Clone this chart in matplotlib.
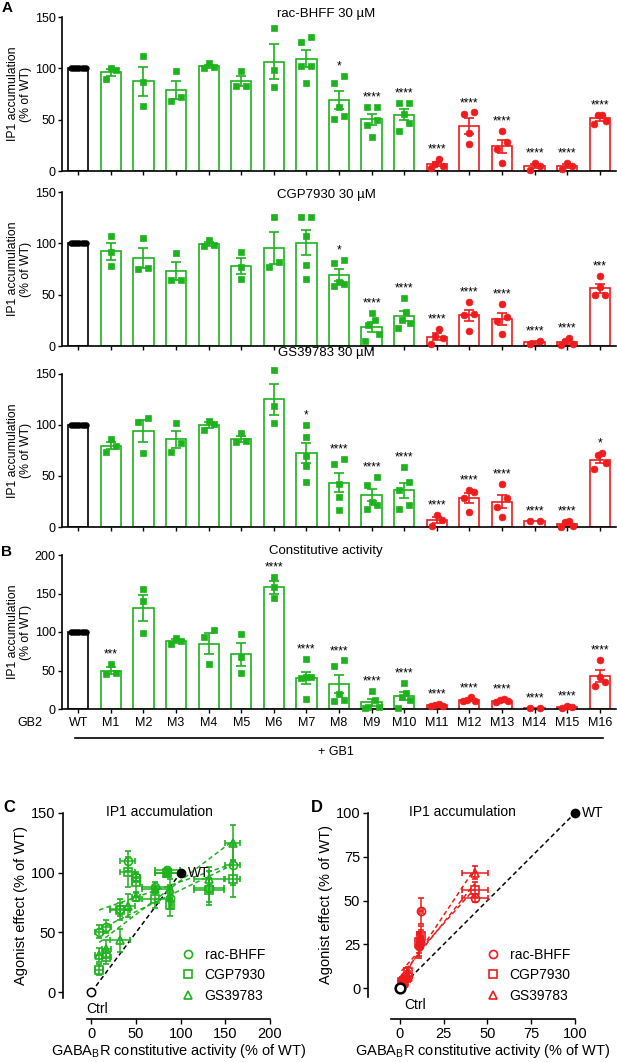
import numpy as np
import matplotlib
matplotlib.use("Agg")
import matplotlib.pyplot as plt
from matplotlib.lines import Line2D
from matplotlib.transforms import blended_transform_factory

plt.rcParams['font.family'] = ['Liberation Sans', 'DejaVu Sans']
plt.rcParams['mathtext.fontset'] = 'custom'
plt.rcParams['mathtext.rm'] = 'Liberation Sans'
plt.rcParams['mathtext.it'] = 'Liberation Sans'

# ---------------- data ----------------
mutants = ['WT', 'M1', 'M2', 'M3', 'M4', 'M5', 'M6', 'M7', 'M8', 'M9', 'M10',
           'M11', 'M12', 'M13', 'M14', 'M15', 'M16']
wt_pts = [100, 100, 100, 100, 100, 100, 100, 100]

bhff_pts = [wt_pts,
            [90, 100, 98], [112, 87, 63], [97, 68, 72], [105, 100, 101],
            [97, 83, 83], [139, 98, 82], [131, 126, 102, 102, 86],
            [93, 86, 62, 54, 51], [62, 62, 50, 45, 33], [66, 66, 56, 47, 39],
            [12, 7, 5, 3], [56, 57, 37, 26], [39, 28, 21, 8], [8, 5, 1],
            [8, 5, 2], [55, 55, 49, 46]]
bhff_sig = ['', '', '', '', '', '', '', '', '*', '****', '****',
            '****', '****', '****', '****', '****', '****']

cgp_pts = [wt_pts,
           [107, 92, 78], [105, 75, 76], [91, 64, 64], [103, 98, 97],
           [92, 77, 65], [126, 82, 77], [126, 126, 107, 79, 65],
           [84, 81, 62, 60, 58], [32, 25, 20, 12, 5], [47, 33, 25, 22, 18],
           [17, 10, 8, 2], [43, 31, 30, 15], [41, 28, 24, 12], [2, 5],
           [8, 5, 2, 1], [68, 57, 50, 50]]
cgp_sig = ['', '', '', '', '', '', '', '', '*', '****', '****',
           '****', '****', '****', '****', '****', '***']

gs_pts = [wt_pts,
          [86, 79, 74], [107, 103, 73], [102, 82, 74], [104, 101, 95],
          [92, 84, 83], [154, 119, 102], [100, 88, 70, 60, 44],
          [67, 62, 42, 29, 17], [49, 41, 25, 22, 18], [59, 44, 36, 22, 18],
          [12, 7, 1], [36, 34, 28, 15], [42, 28, 20, 10], [6, 6],
          [6, 5, 1, 0], [73, 71, 63, 57]]
gs_sig = ['', '', '', '', '', '', '', '*', '****', '****', '****',
          '****', '****', '****', '****', '****', '*']

const_pts = [wt_pts,
             [58, 45, 47], [156, 140, 99], [92, 85, 88], [103, 94, 58],
             [98, 68, 47], [172, 158, 144], [65, 42, 42, 40, 13],
             [63, 56, 20, 10, 12], [24, 12, 3, 3, 1], [34, 21, 16, 12, 1],
             [6, 5, 4, 4], [15, 12, 11, 10], [13, 12, 10, 9], [1, 1],
             [4, 2, 1], [64, 42, 35, 30]]
const_sig = ['', '***', '', '', '', '', '****', '****', '****', '****', '****',
             '****', '****', '****', '****', '****', '****']

agonists = ['rac-BHFF', 'CGP7930', 'GS39783']
agonist_markers = ['o', 's', '^']
panel_titles = ['rac-BHFF 30 µM', 'CGP7930 30 µM', 'GS39783 30 µM', 'Constitutive activity']

GREEN = '#1db31d'
RED = '#ee1c1c'
BLACK = '#000000'


def mean(p):
    return float(np.mean(p))


def sem(p):
    p = np.asarray(p, float)
    return float(np.std(p, ddof=1) / np.sqrt(len(p))) if len(p) > 1 else 0.0


def color_of(i):
    if i == 0:
        return BLACK
    return GREEN if i <= 10 else RED


def marker_of(i):
    if i == 0:
        return 'o'
    return 's' if i <= 10 else 'o'


# ---------------- figure ----------------
W, H = 617, 1062
fig = plt.figure(figsize=(W / 100, H / 100), dpi=100)


def px_axes(left, top, right, bottom):
    return fig.add_axes([left / W, 1 - bottom / H, (right - left) / W, (bottom - top) / H])


def swarm_offsets(vals, ppu_y, ppu_x, thr=10.0):
    vals = np.asarray(vals, float)
    order = np.argsort(vals, kind='stable')
    clusters, cur = [], [order[0]]
    for a, b in zip(order[:-1], order[1:]):
        if (vals[b] - vals[a]) * ppu_y < thr:
            cur.append(b)
        else:
            clusters.append(cur)
            cur = [b]
    clusters.append(cur)
    off = np.zeros(len(vals))
    for c in clusters:
        k = len(c)
        if k == 1:
            continue
        span = 10.0 if k <= 3 else min(15.0, 10.0 + 2.0 * (k - 3))
        pos = np.linspace(-span / 2, span / 2, k)
        # zig-zag assignment: lowest left, next right, then inwards
        zz = []
        lo, hi = 0, k - 1
        while lo <= hi:
            zz.append(lo)
            if hi != lo:
                zz.append(hi)
            lo += 1
            hi -= 1
        for j, idx in enumerate(c):
            off[idx] = pos[zz[j]] / ppu_x
    return off


bar_rows = [(17, 171), (192, 346), (374, 527), (555, 709)]
bar_left, bar_right = 62, 616
datasets = [bhff_pts, cgp_pts, gs_pts, const_pts]
sigsets = [bhff_sig, cgp_sig, gs_sig, const_sig]
ymaxs = [150, 150, 150, 200]
title_y = [14, 195, 353, 551]

x = np.arange(len(mutants))
for r, (top, bot) in enumerate(bar_rows):
    ax = px_axes(bar_left, top, bar_right, bot)
    pts = datasets[r]
    ax.set_xlim(-0.5, len(mutants) - 0.5)
    ax.set_ylim(0, ymaxs[r])
    ppu_x = (bar_right - bar_left) / len(mutants)
    ppu_y = (bot - top) / ymaxs[r]
    means = [mean(p) for p in pts]
    sems = [sem(p) for p in pts]
    cols = [color_of(i) for i in x]
    ax.bar(x, means, width=0.62, facecolor='white', edgecolor=cols,
           linewidth=1.2, zorder=2)
    for i in x:
        if sems[i] > 0:
            ax.errorbar(i, means[i], yerr=sems[i], fmt='none', ecolor=cols[i],
                        elinewidth=1.2, capsize=3.8, capthick=1.2, zorder=3)
        off = swarm_offsets(pts[i], ppu_y, ppu_x)
        ms = 4.0 if i == 0 else (4.7 if marker_of(i) == 's' else 4.9)
        ax.plot(i + off, pts[i], linestyle='none', marker=marker_of(i), ms=ms,
                mfc=cols[i], mec=cols[i], mew=0.5, zorder=4, clip_on=False)
        if sigsets[r][i]:
            ax.annotate(sigsets[r][i], (i, max(pts[i])), xytext=(0, 2.5),
                        textcoords='offset points', ha='center', va='bottom',
                        fontsize=8.5, color='black', zorder=5, annotation_clip=False)
    for s in ['top', 'right']:
        ax.spines[s].set_visible(False)
    for s in ['left', 'bottom']:
        ax.spines[s].set_linewidth(1.2)
    ax.set_yticks(np.arange(0, ymaxs[r] + 1, 50))
    ax.set_xticks(x)
    ax.tick_params(axis='both', length=3, width=1.0, labelsize=9, pad=1.5)
    if r < 3:
        ax.set_xticklabels([])
    else:
        ax.set_xticklabels(mutants, fontsize=9)
        ax.tick_params(axis='x', pad=2.5)
    ax.set_ylabel('IP1 accumulation\n(% of WT)', fontsize=8.8, linespacing=1.1, labelpad=2)
    tr = blended_transform_factory(ax.transData, fig.transFigure)
    ax.text(7.6, 1 - title_y[r] / H, panel_titles[r], transform=tr,
            ha='center', va='center', fontsize=9.5)
    if r == 3:
        ax_b = ax

# panel letters A, B
fig.text(2 / W, 1 - 8 / H, 'A', fontsize=11, fontweight='bold', ha='left', va='center')
fig.text(1 / W, 1 - 552 / H, 'B', fontsize=11, fontweight='bold', ha='left', va='center')

# GB2 / + GB1 annotation
fig.text(30 / W, 1 - 723 / H, 'GB2', fontsize=9, ha='center', va='center')
trb = blended_transform_factory(ax_b.transData, fig.transFigure)
ax_b.plot([-0.1, 16.1], [1 - 738 / H, 1 - 738 / H], color='black', lw=1.2,
          transform=trb, clip_on=False)
fig.text(336 / W, 1 - 752 / H, '+ GB1', fontsize=9, ha='center', va='center')

# ---------------- scatter panels C and D ----------------
agon_sets = [bhff_pts, cgp_pts, gs_pts]


def scatter_panel(ax, idx, color, xlim, ylim, xticks, yticks, left_off, bot_off):
    ax.set_xlim(*xlim)
    ax.set_ylim(*ylim)
    cx = np.array([mean(const_pts[i]) for i in idx])
    cxe = np.array([sem(const_pts[i]) for i in idx])
    ax.plot([0, 100], [0, 100], linestyle=(0, (3, 2)), color='black', lw=1.1, zorder=2,
            clip_on=False)
    for a, data in enumerate(agon_sets):
        ay = np.array([mean(data[i]) for i in idx])
        aye = np.array([sem(data[i]) for i in idx])
        ax.errorbar(cx, ay, xerr=cxe, yerr=aye, fmt=agonist_markers[a], ms=5.8,
                    mfc='none', mec=color, mew=1.2, ecolor=color, elinewidth=1.1,
                    capsize=2.5, capthick=1.1, zorder=3, clip_on=False)
        k, b = np.polyfit(cx, ay, 1)
        xs = np.array([cx.min(), cx.max()])
        ax.plot(xs, k * xs + b, linestyle=(0, (3, 2)), color=color, lw=1.1, zorder=2)
    for s in ['top', 'right']:
        ax.spines[s].set_visible(False)
    ax.spines['left'].set_position(('outward', left_off))
    ax.spines['bottom'].set_position(('outward', bot_off))
    for s in ['left', 'bottom']:
        ax.spines[s].set_linewidth(1.2)
    ax.set_xticks(xticks)
    ax.set_yticks(yticks)
    ax.tick_params(axis='both', length=3.5, width=1.0, labelsize=10.5, pad=2)
    ax.set_xlabel('GABA$_{\\mathrm{B}}$R constitutive activity (% of WT)', fontsize=10.5,
                  labelpad=1)
    ax.set_ylabel('Agonist effect (% of WT)', fontsize=10.5, labelpad=2)
    handles = [Line2D([], [], linestyle='none', marker=m, ms=5.8, mfc='none',
                      mec=color, mew=1.2) for m in agonist_markers]
    return handles


axC = px_axes(87, 813, 270, 998)
hC = scatter_panel(axC, list(range(1, 11)), GREEN, (-5, 200), (-5, 150),
                   [0, 50, 100, 150, 200], [0, 50, 100, 150], 17.3, 15.1)
axC.plot([0], [0], 'o', ms=6, mfc='white', mec='black', mew=1.1, zorder=5, clip_on=False)
axC.plot([100], [100], 'o', ms=6, mfc='black', mec='black', zorder=5, clip_on=False)
axC.annotate('WT', (100, 100), xytext=(5, 0), textcoords='offset points',
             ha='left', va='center', fontsize=10)
axC.annotate('Ctrl', (0, 0), xytext=(4, -12), textcoords='offset points',
             ha='center', va='center', fontsize=10)
axC.legend(hC, agonists, loc='upper left', bbox_to_anchor=(0.514, 0.27), frameon=False,
           fontsize=10, borderpad=0, handlelength=1.0, handletextpad=0.7,
           labelspacing=0.45, borderaxespad=0)
axC.set_title('IP1 accumulation', fontsize=10, x=0.395, y=0.96, va='center')

axD = px_axes(391, 813, 575, 997)
hD = scatter_panel(axD, list(range(11, 17)), RED, (-5, 100), (-5, 100),
                   [0, 25, 50, 75, 100], [0, 25, 50, 75, 100], 16.6, 15.8)
axD.plot([0], [0], 'o', ms=7, mfc='white', mec='black', mew=1.8, zorder=6, clip_on=False)
axD.plot([100], [100], 'o', ms=6, mfc='black', mec='black', zorder=5, clip_on=False)
axD.annotate('WT', (100, 100), xytext=(5, 0), textcoords='offset points',
             ha='left', va='center', fontsize=10)
axD.annotate('Ctrl', (0, 0), xytext=(3, -12), textcoords='offset points',
             ha='left', va='center', fontsize=10)
axD.legend(hD, agonists, loc='upper left', bbox_to_anchor=(0.516, 0.266), frameon=False,
           fontsize=10, borderpad=0, handlelength=1.0, handletextpad=0.7,
           labelspacing=0.45, borderaxespad=0)
axD.set_title('IP1 accumulation', fontsize=10, x=0.39, y=0.96, va='center')

fig.text(3 / W, 1 - 808 / H, 'C', fontsize=12, fontweight='bold', ha='left', va='center')
fig.text(311 / W, 1 - 808 / H, 'D', fontsize=12, fontweight='bold', ha='left', va='center')

fig.savefig('out.png', dpi=100)
